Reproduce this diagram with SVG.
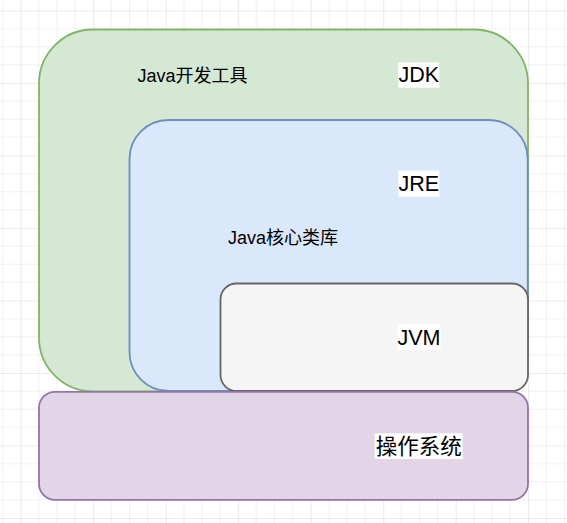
<svg xmlns="http://www.w3.org/2000/svg" width="567" height="523" viewBox="0 0 567 523">
  <defs>
    <pattern id="grid" patternUnits="userSpaceOnUse" x="20.7" y="10.5" width="72.5" height="72.5">
      <path d="M18.125 0V72.5M36.25 0V72.5M54.375 0V72.5M0 18.125H72.5M0 36.25H72.5M0 54.375H72.5" stroke="#f0f0f0" stroke-width="1" fill="none"/>
      <path d="M0 0V72.5M0 0H72.5" stroke="#dcdcdc" stroke-width="1.2" fill="none"/>
    </pattern>
    <style>
      .lbl { font-family: "Liberation Sans", "Noto Sans CJK SC", Arial, sans-serif; fill: #000; text-anchor: middle; }
      .big { font-size: 21.5px; }
      .small { font-size: 18px; }
      .bg { fill: #ffffff; }
      .box { stroke-width: 1.8; }
    </style>
  </defs>
  <rect x="0" y="0" width="567" height="523" fill="#ffffff"/>
  <rect x="0" y="0" width="567" height="523" fill="url(#grid)"/>

  <g id="jdk">
    <rect class="box" x="39" y="29.5" width="489" height="362" rx="54" ry="54" fill="#d5e8d4" stroke="#82b366"/>
    <text class="lbl small" x="192.5" y="81.7">Java开发工具</text>
    <rect class="bg" x="398.3" y="62.3" width="41" height="25.4"/>
    <text class="lbl big" x="418.8" y="82.3">JDK</text>
  </g>

  <g id="jre">
    <rect class="box" x="129.5" y="120" width="398.2" height="271" rx="39" ry="39" fill="#dae8fc" stroke="#6c8ebf"/>
    <rect class="bg" x="398.3" y="170.7" width="41" height="26"/>
    <text class="lbl big" x="418.8" y="190.5">JRE</text>
    <text class="lbl small" x="283" y="243.5">Java核心类库</text>
  </g>

  <g id="jvm">
    <rect class="box" x="220.5" y="283.5" width="307.5" height="107.5" rx="16" ry="16" fill="#f5f5f5" stroke="#666666"/>
    <rect class="bg" x="397.3" y="324.3" width="43.4" height="25.7"/>
    <text class="lbl big" x="419" y="344.5">JVM</text>
  </g>

  <g id="os">
    <rect class="box" x="39" y="391.8" width="489" height="108" rx="16" ry="16" fill="#e1d5e7" stroke="#9673a6"/>
    <rect class="bg" x="374.7" y="433.3" width="88" height="25.7"/>
    <text class="lbl big" x="418.7" y="453.5">操作系统</text>
  </g>

  <g id="connectors"></g>
</svg>
